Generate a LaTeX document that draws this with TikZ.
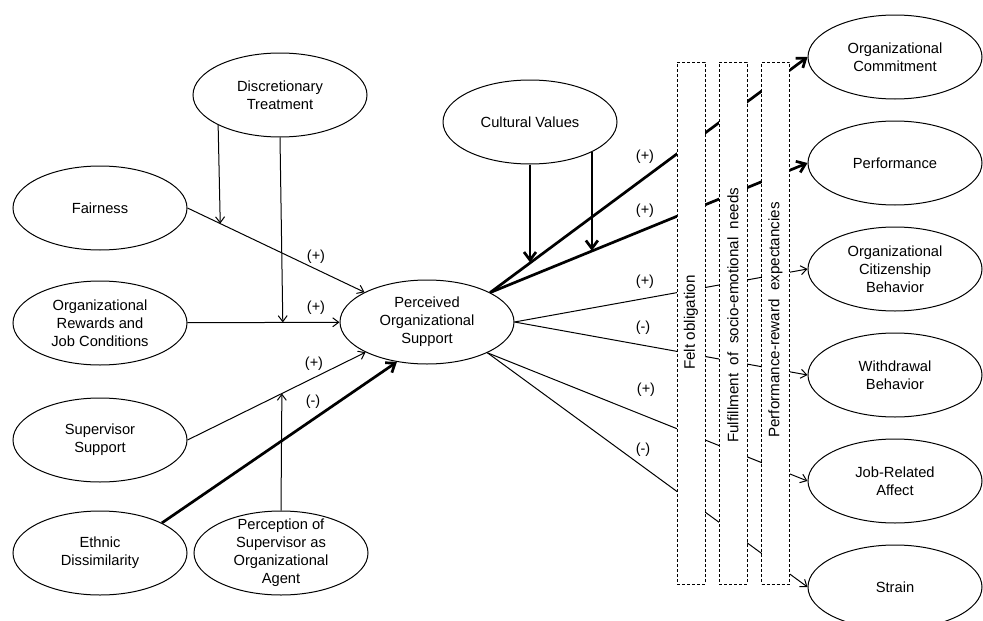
\documentclass[tikz,border=0pt]{standalone}
\usepackage{fontspec}
\setmainfont{Liberation Sans}
\usetikzlibrary{arrows.meta,positioning,shapes.geometric}
\tikzset{
  factor/.style={ellipse,draw,line width=1pt,minimum width=174pt,minimum height=84pt,
    inner sep=0pt,align=center,font=\fontsize{14.7pt}{18pt}\selectfont},
  dashbox/.style={rectangle,draw,dash pattern=on 3pt off 2pt,line width=0.9pt,fill=white,
    minimum width=28pt,minimum height=522pt,inner sep=0pt},
  boxtext/.style={rotate=90,anchor=west,inner sep=0pt,font=\fontsize{15.2pt}{18pt}\selectfont},
  sign/.style={inner sep=1pt,font=\fontsize{14.5pt}{16pt}\selectfont},
  arrow/.style={-{Straight Barb[length=6pt,width=9pt]},line width=1pt},
  boldarrow/.style={-{Straight Barb[length=8pt,width=12pt]},line width=2.7pt}
}
\begin{document}
\begin{tikzpicture}[x=1pt,y=-1pt]
  \useasboundingbox (0,0) rectangle (983,621);
  % antecedents
  \node[factor] (fair) at (100,208) {Fairness};
  \node[factor, below=30pt of fair] (rew) {Organizational\\Rewards and\\Job Conditions};
  \node[factor, below=32pt of rew] (sup) {Supervisor\\Support};
  \node[factor, below=28pt of sup] (eth) {Ethnic\\Dissimilarity};
  \node[factor, right=6pt of eth, inner ysep=-5pt] (perc) {Perception of\\Supervisor as\\Organizational\\Agent};
  \node[factor] (dt) at (280,95) {Discretionary\\Treatment};
  \node[factor] (pos) at (427,322) {Perceived\\Organizational\\Support};
  \node[factor] (cv) at (530,122) {Cultural Values};
  % outcomes
  \node[factor] (oc) at (895,57) {Organizational\\Commitment};
  \node[factor, below=21pt of oc] (perf) {Performance};
  \node[factor, below=21pt of perf] (ocb) {Organizational\\Citizenship\\Behavior};
  \node[factor, below=21pt of ocb] (wd) {Withdrawal\\Behavior};
  \node[factor, below=21pt of wd] (jra) {Job-Related\\Affect};
  \node[factor, below=21pt of jra] (strain) {Strain};

  \draw[arrow] (fair.east) -- coordinate[pos=0.185] (fairmid) (pos);
  \draw[arrow] (rew) -- coordinate[pos=0.627] (rewmid) (pos);
  \draw[arrow] (sup.east) -- coordinate[pos=0.53] (supmid) (pos);
  \draw[boldarrow] (eth.north east) -- (pos.233);
  \draw[arrow] (dt.south west) -- (fairmid);
  \draw[arrow] (dt.south) -- (rewmid);
  \draw[arrow] (perc.north) -- (supmid);

  \draw[boldarrow] (pos.25) -- coordinate[pos=0.1285] (ocmid) (oc.west);
  \draw[boldarrow] (pos.25) -- coordinate[pos=0.323] (perfmid) (perf.west);
  \draw[arrow] (pos.east) -- (ocb.west);
  \draw[arrow] (pos.east) -- (wd.west);
  \draw[arrow] (pos.-27) -- (jra.west);
  \draw[arrow] (pos.-27) -- (strain.west);
  \draw[boldarrow] (cv.south) -- (cv.south |- ocmid);
  \draw[boldarrow] (cv.south east) -- (cv.south east |- perfmid);

  % signs
  \node[sign] (s1) at (316,257) {(+)};
  \node[sign] (s2) at (316,308) {(+)};
  \node[sign] (s3) at (314,364) {(+)};
  \node[sign] (s4) at (313,402) {(-)};
  \node[sign] (s5) at (645,157) {(+)};
  \node[sign] (s6) at (645,211) {(+)};
  \node[sign] (s7) at (645,282) {(+)};
  \node[sign] (s8) at (643,328) {(-)};
  \node[sign] (s9) at (646,390) {(+)};
  \node[sign] (s10) at (643,450) {(-)};

  % mediators
  \node[dashbox] (felt) at (691,323) {};
  \node[dashbox] (needs) at (733,323) {};
  \node[dashbox] (expect) at (775.5,323) {};
  \node[boxtext] (felttext) at (691,370) {Felt obligation};
  \node[boxtext] (needstext) at (733,443) {Fulfillment\ \ of\ \ socio-emotional\ \ needs};
  \node[boxtext] (expecttext) at (775.5,438) {Performance-reward\ \ expectancies};
\end{tikzpicture}
\end{document}
